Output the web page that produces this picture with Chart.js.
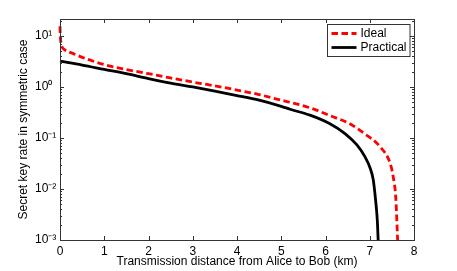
<!DOCTYPE html>
<html>
<head>
<meta charset="utf-8">
<script src="https://cdn.jsdelivr.net/npm/chart.js@4/dist/chart.umd.min.js"></script>
<style>
html,body{margin:0;padding:0;background:#fff;}
canvas{display:block;}
</style>
</head>
<body>
<canvas id="c" width="457" height="271"></canvas>
<script>
// ---- data ----
const idealX = [0, 0.005, 0.02, 0.05, 0.1, 0.3, 0.6, 1.0, 1.5, 2.0, 2.5, 3.16, 3.5, 4.0, 4.5, 5.0, 5.2, 5.65, 6.1, 6.55, 6.89, 7.23, 7.46, 7.53, 7.59, 7.63];
const idealY = [15.5, 11, 7.5, 6.0, 5.4, 4.5, 3.55, 2.75, 2.2, 1.82, 1.5, 1.18, 1.05, 0.87, 0.71, 0.55, 0.5, 0.39, 0.275, 0.19, 0.12, 0.068, 0.032, 0.0174, 0.0063, 0.001];
const practicalX = [0, 0.5, 1.0, 1.5, 2.0, 2.5, 3.0, 3.5, 4.0, 4.5, 5.0, 5.2, 5.65, 6.1, 6.44, 6.71, 6.89, 7.01, 7.08, 7.13, 7.17, 7.19];
const practicalY = [3.2, 2.69, 2.21, 1.82, 1.46, 1.19, 1.0, 0.83, 0.68, 0.55, 0.417, 0.366, 0.28, 0.19, 0.122, 0.073, 0.043, 0.0255, 0.015, 0.0063, 0.0025, 0.001];
const seriesNames = ['Ideal', 'Practical'];
const xTickValues = [0, 1, 2, 3, 4, 5, 6, 7, 8];
const yTickValues = [0.001, 0.01, 0.1, 1, 10];
const yTickLabels = ['10\u207B\u00B3', '10\u207B\u00B2', '10\u207B\u00B9', '10\u2070', '10\u00B9'];
const xTitle = 'Transmission distance from Alice to Bob (km)';
const yTitle = 'Secret key rate in symmetric case';

const FONT = 'Liberation Sans, Arial, Helvetica, sans-serif';

const toPts = (xs, ys) => xs.map((x, i) => ({x: x, y: ys[i]}));

const framePlugin = {
  id: 'framePlugin',
  afterDatasetsDraw(chart) {
    const ctx = chart.ctx;
    const a = chart.chartArea;
    const xs = chart.scales.x, ys = chart.scales.y;
    ctx.save();
    ctx.strokeStyle = '#333';
    ctx.lineWidth = 1;
    ctx.beginPath();
    xTickValues.forEach(v => {
      const px = Math.round(xs.getPixelForValue(v)) + 0.5;
      ctx.moveTo(px, a.bottom); ctx.lineTo(px, a.bottom - 4);
      ctx.moveTo(px, a.top); ctx.lineTo(px, a.top + 4);
    });
    for (let e = -3; e <= 1; e++) {
      for (let m = 1; m <= 9; m++) {
        const v = m * Math.pow(10, e);
        if (v > ys.max) continue;
        const len = (m === 1) ? 4 : 2;
        const py = Math.round(ys.getPixelForValue(v)) + 0.5;
        ctx.moveTo(a.left, py); ctx.lineTo(a.left + len, py);
        ctx.moveTo(a.right, py); ctx.lineTo(a.right - len, py);
      }
    }
    ctx.stroke();
    ctx.strokeRect(Math.round(a.left) + 0.5, Math.round(a.top) + 0.5,
                   Math.round(a.right - a.left), Math.round(a.bottom - a.top));
    ctx.restore();
  },
  afterDraw(chart) {
    const ctx = chart.ctx;
    const a = chart.chartArea;
    const ds = chart.data.datasets;
    const bx = a.right - 87.5, by = a.top + 5, bw = 82.5, bh = 32;
    ctx.save();
    ctx.fillStyle = '#fff';
    ctx.fillRect(bx, by, bw, bh);
    ctx.strokeStyle = '#333';
    ctx.lineWidth = 1;
    ctx.strokeRect(Math.round(bx) + 0.5, Math.round(by) + 0.5, bw, bh);
    ctx.font = '12px ' + FONT;
    ctx.textBaseline = 'middle';
    ctx.textAlign = 'left';
    ds.forEach((d, i) => {
      const cy = by + 9.5 + i * 14;
      ctx.beginPath();
      ctx.strokeStyle = d.borderColor;
      ctx.lineWidth = d.borderWidth;
      ctx.setLineDash(d.borderDash || []);
      ctx.moveTo(bx + 5, cy); ctx.lineTo(bx + 30, cy);
      ctx.stroke();
      ctx.setLineDash([]);
      ctx.fillStyle = '#000';
      ctx.fillText(d.label, bx + 34, cy + 0.5);
    });
    ctx.restore();
  }
};

new Chart(document.getElementById('c'), {
  type: 'line',
  data: {
    datasets: [
      {
        label: seriesNames[0],
        data: toPts(idealX, idealY),
        borderColor: '#ff0000',
        borderWidth: 2.8,
        borderDash: [6.5, 3.5],
        pointRadius: 0,
        cubicInterpolationMode: 'monotone',
        clip: { left: 3, top: 0, right: 0, bottom: 0 },
        fill: false
      },
      {
        label: seriesNames[1],
        data: toPts(practicalX, practicalY),
        borderColor: '#000000',
        borderWidth: 2.8,
        pointRadius: 0,
        cubicInterpolationMode: 'monotone',
        clip: { left: 3, top: 0, right: 0, bottom: 0 },
        fill: false
      }
    ]
  },
  options: {
    responsive: false,
    devicePixelRatio: 1,
    animation: false,
    layout: { padding: { top: 19, right: 43, left: 35, bottom: 0 } },
    plugins: { legend: { display: false }, tooltip: { enabled: false } },
    scales: {
      x: {
        type: 'linear',
        min: 0, max: 8,
        grid: { display: false, drawTicks: false },
        border: { display: false },
        afterBuildTicks: s => { s.ticks = xTickValues.map(v => ({value: v})); },
        ticks: { color: '#000', font: { family: FONT, size: 12 }, padding: 4, maxRotation: 0, autoSkip: false },
        title: { display: true, text: xTitle, color: '#000', font: { family: FONT, size: 12 }, padding: { top: 0, bottom: 2 } },
        afterFit: s => { s.height = 31; }
      },
      y: {
        type: 'logarithmic',
        min: 0.001, max: 21.5,
        grid: { display: false, drawTicks: false },
        border: { display: false },
        afterBuildTicks: s => { s.ticks = yTickValues.map(v => ({value: v})); },
        ticks: {
          color: '#000', font: { family: FONT, size: 12 }, padding: 4, crossAlign: 'far', autoSkip: false,
          callback: function (value) {
            const i = yTickValues.findIndex(t => Math.abs(t - value) / t < 1e-6);
            return i >= 0 ? yTickLabels[i] : '';
          }
        },
        title: { display: true, text: yTitle, color: '#000', font: { family: FONT, size: 12 }, padding: { top: -19, bottom: 0 } },
        afterFit: s => { s.width = 25; }
      }
    }
  },
  plugins: [framePlugin]
});
</script>
</body>
</html>
